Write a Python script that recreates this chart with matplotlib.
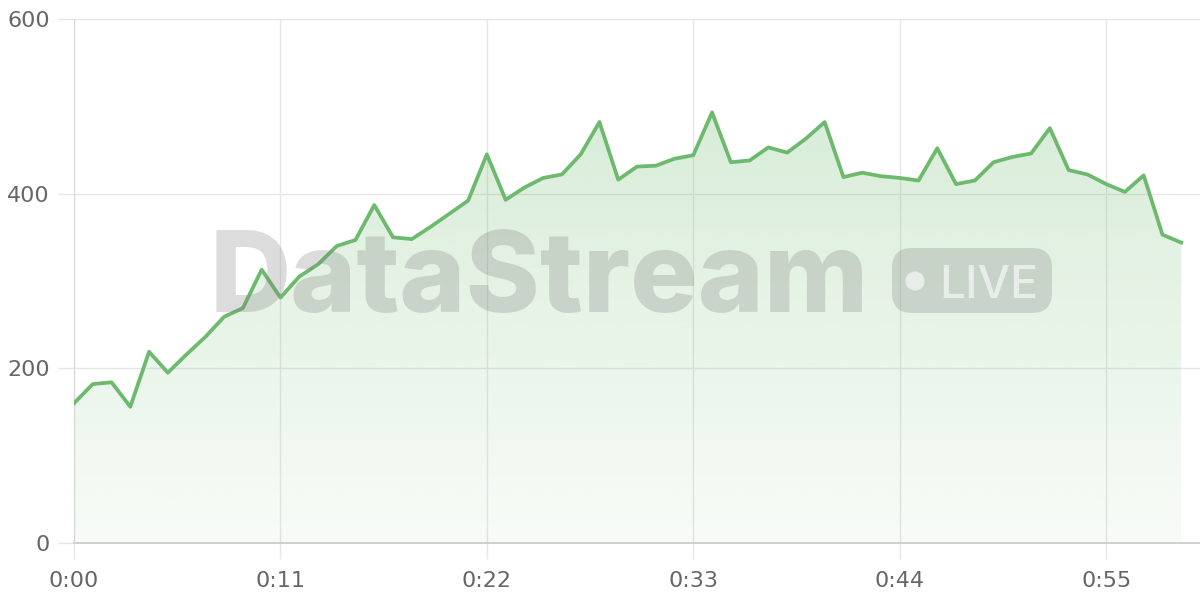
import numpy as np
import matplotlib
matplotlib.use('Agg')
import matplotlib.pyplot as plt
from matplotlib.patches import FancyBboxPatch, Circle

# data (one value per minute)
minutes = list(range(60))
values = [160, 182, 184, 156, 219, 195, 216, 236, 259, 269,
          313, 281, 305, 319, 340, 347, 387, 350, 348, 362,
          377, 392, 445, 393, 407, 418, 422, 445, 482, 416,
          431, 432, 440, 444, 493, 436, 438, 453, 447, 463,
          482, 419, 424, 420, 418, 415, 452, 411, 415, 436,
          442, 446, 475, 427, 422, 411, 402, 421, 353, 344]
xticks = [0, 11, 22, 33, 44, 55]
xticklabels = ['0:%02d' % m for m in xticks]
yticks = [0, 200, 400, 600]

green = (109/255, 185/255, 110/255)
gridc = '#e6e6e6'
txtc = '#666666'

fig = plt.figure(figsize=(12, 6), dpi=100)
ax = fig.add_axes([74/1200, 57/600, 1126/1200, 524/600])

# gradient fill under the line
poly = ax.fill_between(minutes, values, 0, color='none', lw=0)
grad = np.zeros((256, 1, 4))
grad[:, 0, :3] = green
grad[:, 0, 3] = np.linspace(0.27, 0.05, 256)
img = ax.imshow(grad, extent=[0, 60, 0, 500], aspect='auto', origin='upper', zorder=1)
img.set_clip_path(poly.get_paths()[0], transform=ax.transData)
ax.set_ylim(0, 600)
ax.set_xlim(0, 60)

ax.plot(minutes, values, color=green, lw=2.7, zorder=4)

# watermark
tr = fig.dpi_scale_trans
wm = (0.5, 0.5, 0.5, 0.27)
fig.text(2.10, 2.88, 'DataStream', transform=tr, fontsize=81, fontweight='heavy',
         family=['Inter', 'Open Sans'], color=wm, zorder=3)
badge = FancyBboxPatch((8.92, 2.87), 1.60, 0.65, boxstyle='round,pad=0,rounding_size=0.2',
                       transform=tr, facecolor=wm, edgecolor='none', zorder=3)
fig.patches.append(badge)
fig.patches.append(Circle((9.15, 3.19), 0.095, transform=tr, facecolor=(1, 1, 1, 0.6),
                          edgecolor='none', zorder=3))
fig.text(9.395, 3.02, 'LIVE', transform=tr, fontsize=33, family=['Inter', 'Open Sans'],
         fontweight='medium', color=(1, 1, 1, 0.6), zorder=3)

ax.set_xticks(xticks)
ax.set_xticklabels(xticklabels)
ax.set_yticks(yticks)
ax.grid(True, color=gridc, lw=1, zorder=0)
ax.set_axisbelow(True)
for s in ['top', 'right']:
    ax.spines[s].set_visible(False)
ax.spines['left'].set_color('#d6d6d6')
ax.spines['bottom'].set_color('#cccccc')
ax.spines['bottom'].set_linewidth(1.3)
ax.tick_params(axis='both', colors=gridc, length=11.5, width=1, labelcolor=txtc, labelsize=16)
ax.tick_params(axis='x', pad=9)
ax.tick_params(axis='y', pad=6)

fig.savefig('out.png', dpi=100)
